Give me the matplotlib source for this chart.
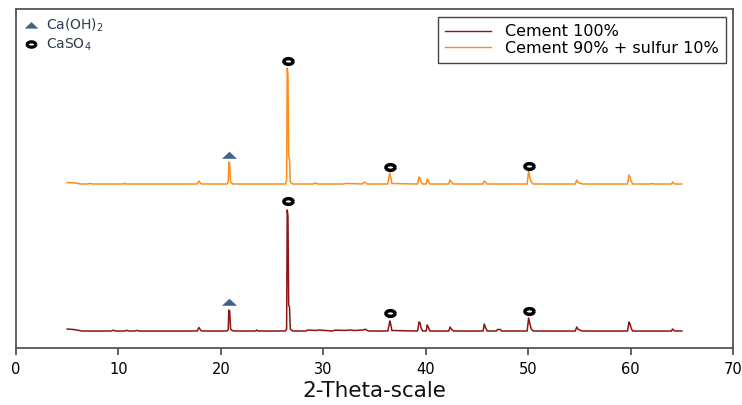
import matplotlib
matplotlib.use("Agg")
import numpy as np
import matplotlib.pyplot as plt
from matplotlib.lines import Line2D

# ---- data (2-theta, intensity above each pattern's baseline) ----
red_tt = [5.0, 5.6, 6.2, 6.4, 9.3, 9.5, 9.7, 10.6, 10.8, 11.0, 11.6, 11.8, 12.0,
          17.7, 17.85, 17.95, 18.1, 20.6, 20.72, 20.78, 20.86, 20.95, 21.1, 21.3,
          23.4, 23.5, 23.6, 26.3, 26.42, 26.48, 26.55, 26.62, 26.7, 26.78, 27.0,
          28.3, 28.5, 29.3, 29.5, 30.9, 31.1, 32.2, 32.6, 33.0, 33.9, 34.1, 34.4,
          36.3, 36.42, 36.5, 36.58, 36.7, 39.2, 39.35, 39.45, 39.55, 39.7,
          40.05, 40.15, 40.25, 40.4, 42.25, 42.38, 42.5, 42.7, 45.6, 45.72, 45.82, 46.0,
          46.9, 47.0, 47.3, 47.4, 49.9, 50.05, 50.15, 50.3, 50.5,
          54.6, 54.75, 54.85, 55.0, 55.3, 59.7, 59.85, 59.95, 60.05, 60.2,
          64.0, 64.1, 64.3, 65.0]
red_int = [2, 1.5, 0.5, 0, 0, 0.8, 0, 0, 0.6, 0, 0, 0.6, 0,
           0, 3.5, 2, 0, 0, 1.5, 21, 20, 2, 0.5, 0,
           0, 1, 0, 0, 2, 121, 115, 26, 24, 2, 0,
           0, 1, 0.5, 1, 0, 0.8, 0.6, 1, 0.5, 1, 1.8, 0,
           0, 6, 10, 7, 0.5, 0, 9, 8, 3, 0,
           0, 6, 4, 0, 0, 4, 2, 0, 0, 7, 4, 0,
           0, 1.5, 1.5, 0, 0, 13, 8, 2, 0,
           0, 4, 2, 1, 0, 0, 9, 7, 3, 0,
           0, 2, 0, 0]

ora_tt = [5.0, 5.8, 6.3, 7.0, 7.2, 7.5, 10.5, 10.6, 10.7,
          17.7, 17.85, 18.0, 18.1, 20.6, 20.72, 20.78, 20.86, 20.95, 21.2,
          26.3, 26.42, 26.48, 26.55, 26.62, 26.7, 26.78, 27.0,
          29.0, 29.2, 29.5, 32.0, 32.2, 33.8, 34.0, 34.3,
          36.3, 36.42, 36.5, 36.58, 36.7, 39.2, 39.35, 39.45, 39.55, 39.7,
          40.05, 40.15, 40.25, 40.4, 42.25, 42.38, 42.5, 42.7, 45.6, 45.72, 45.82, 46.0,
          49.9, 50.05, 50.15, 50.3, 50.5, 54.6, 54.75, 54.85, 55.0, 55.3,
          59.7, 59.85, 59.95, 60.05, 60.2, 62.0, 62.1, 62.3, 64.0, 64.1, 64.3, 65.0]
ora_int = [1.5, 1, 0, 0, 0.6, 0, 0, 0.8, 0,
           0, 3, 1, 0, 0, 2, 22, 20, 1.5, 0,
           0, 3, 116, 110, 28, 25, 2, 0,
           0, 1, 0, 0, 0.6, 0, 2, 0,
           0, 7, 11, 7, 0.5, 0, 7, 6, 2, 0,
           0, 5, 3, 0, 0, 4, 2, 0, 0, 3, 2, 0,
           0, 13, 7, 2, 0, 0, 4, 2, 1, 0,
           0, 9, 7, 3, 0, 0, 0.6, 0, 0, 2, 0, 0]

# phase markers (2-theta, height above baseline)
caoh2_tt = [20.8]
caso4_tt = [26.55, 36.5, 50.1]
red_caoh2_h = [29]
red_caso4_h = [130, 18, 20]
ora_caoh2_h = [29]
ora_caso4_h = [123, 17, 18]

series_labels = ["Cement 100%", "Cement 90% + sulfur 10%"]
phase_labels = ["Ca(OH)$_2$", "CaSO$_4$"]
xticks = [0, 10, 20, 30, 40, 50, 60, 70]

# ---- styling ----
RED = "#8b1414"
ORANGE = "#ff8c1a"
TRI = "#3f6190"
red_base = 17
ora_base = 164

# flat triangle and flat ring markers
tri_marker = [(-1, -0.45), (1, -0.45), (0, 0.5), (-1, -0.45)]
_a = np.linspace(0, 2*np.pi, 40)
ring_marker = list(zip(np.cos(_a), 0.62*np.sin(_a)))

fig = plt.figure(figsize=(7.42, 4.05), dpi=100)
ax = fig.add_axes([16/742, 1-348/405, (733-16)/742, (348-9)/405])

ax.plot(red_tt, [v + red_base for v in red_int], color=RED, lw=1.1, label=series_labels[0])
ax.plot(ora_tt, [v + ora_base for v in ora_int], color=ORANGE, lw=1.1, label=series_labels[1])

for base, ch, cs in [(red_base, red_caoh2_h, red_caso4_h), (ora_base, ora_caoh2_h, ora_caso4_h)]:
    ax.plot(caoh2_tt, [h + base for h in ch], ls="none", marker=tri_marker, ms=10,
            mfc=TRI, mec=TRI, mew=0.3, zorder=5)
    ax.plot(caso4_tt, [h + base for h in cs], ls="none", marker=ring_marker, ms=6.6,
            mfc="white", mec="black", mew=2.5, zorder=5)

ax.set_xlim(0, 70)
ax.set_ylim(0, 339)
ax.set_xticks(xticks)
ax.set_xticklabels([str(t) for t in xticks], fontsize=10.5, family="DejaVu Sans")
ax.set_yticks([])
ax.tick_params(axis="x", direction="out", length=5, width=1.2, color="#444444", pad=5)
for s in ax.spines.values():
    s.set_color("#555555")
    s.set_linewidth(1.3)

ax.set_xlabel("2-Theta-scale", fontsize=15.5, family="DejaVu Sans", labelpad=3, color="#111111")

leg1 = ax.legend(loc="upper right", bbox_to_anchor=(726/742, 1 - 17/405),
                 bbox_transform=fig.transFigure, fontsize=11.5, frameon=True, fancybox=False,
                 edgecolor="#444444", framealpha=1, handlelength=2.9, handletextpad=0.85,
                 labelspacing=0.1, borderpad=0.45, borderaxespad=0)
leg1.get_frame().set_linewidth(1.0)
for ln in leg1.get_lines():
    ln.set_linewidth(1.0)
ax.add_artist(leg1)

h_tri = Line2D([], [], ls="none", marker=tri_marker, ms=9, mfc=TRI, mec=TRI, mew=0.3)
h_cir = Line2D([], [], ls="none", marker=ring_marker, ms=6.2, mfc="white", mec="black", mew=2.3)
leg2 = ax.legend([h_tri, h_cir], phase_labels, loc="upper left",
                 bbox_to_anchor=(24/742, 1 - 17/405), bbox_transform=fig.transFigure,
                 frameon=False, fontsize=10, handlelength=1.0, handletextpad=0.6,
                 labelspacing=0.15, borderpad=0, borderaxespad=0)
for t in leg2.get_texts():
    t.set_color("#2f3b50")
    t.set_family("DejaVu Sans")

fig.savefig("out.png", dpi=100)
